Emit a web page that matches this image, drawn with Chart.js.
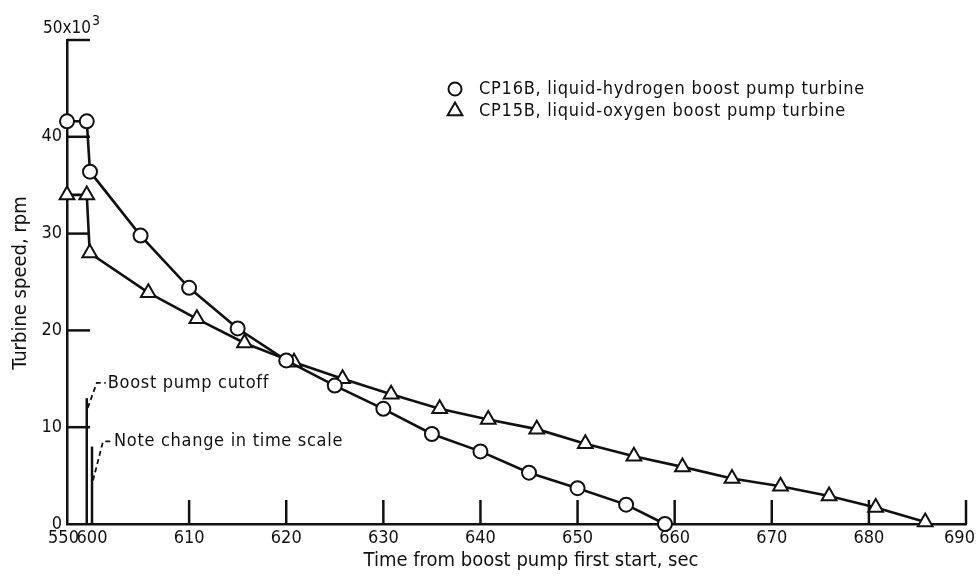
<!DOCTYPE html>
<html><head><meta charset="utf-8">
<script src="https://cdn.jsdelivr.net/npm/chart.js@4.4.1/dist/chart.umd.min.js"></script>
<style>html,body{margin:0;padding:0;background:#fff;}canvas{display:block;}</style>
</head><body>
<canvas id="c" width="978" height="577"></canvas>
<script>
// ---- data (time in sec, speed in thousands of rpm) ----
const hydrogenTimes  = [550, 589.5, 596, 605, 610, 615, 620, 625, 630, 635, 640, 645, 650, 655, 659];
const hydrogenSpeeds = [41.6, 41.6, 36.4, 29.8, 24.4, 20.2, 16.9, 14.3, 11.9, 9.3, 7.5, 5.3, 3.7, 2.0, 0];
const oxygenTimes  = [550, 589.5, 595.5, 605.8, 610.8, 615.7, 620.8, 625.8, 630.8, 635.8, 640.8, 645.8, 650.8, 655.8, 660.8, 665.9, 670.9, 675.9, 680.7, 685.8];
const oxygenSpeeds = [34.0, 34.0, 28.0, 23.9, 21.2, 18.7, 16.7, 15.0, 13.4, 11.9, 10.8, 9.8, 8.3, 7.0, 5.9, 4.7, 3.9, 2.9, 1.7, 0.2];
const xTickValues = [550, 600, 610, 620, 630, 640, 650, 660, 670, 680, 690];
const yTickValues = [0, 10, 20, 30, 40, 50];
const seriesLabels = ['CP16B, liquid-hydrogen boost pump turbine', 'CP15B, liquid-oxygen boost pump turbine'];
const xTitle = 'Time from boost pump first start, sec';
const yTitle = 'Turbine speed, rpm';
const yUnitLabel = '50x10';
const yUnitExp = '3';
const cutoffTime = 589.5, cutoffTop = 13, cutoffText = 'Boost pump cutoff';
const scaleChangeTime = 600, scaleChangeTop = 8, scaleChangeText = 'Note change in time scale';

// broken time scale: 550-600 compressed
const breakTime = 600, compress = 0.0515;
const warp = t => t >= breakTime ? t : breakTime - (breakTime - t) * compress;

const FONT = "'DejaVu Sans Condensed', 'Liberation Sans Narrow', sans-serif";
const INK = '#111';
const lastX = xTickValues.length - 1;

const overlay = {
  id: 'overlay',
  afterDraw(chart) {
    const ctx = chart.ctx, xs = chart.scales.x, ys = chart.scales.y, a = chart.chartArea;
    ctx.save();
    ctx.strokeStyle = INK; ctx.fillStyle = INK; ctx.lineWidth = 2.5; ctx.lineCap = 'butt';
    // inward y ticks
    yTickValues.forEach(v => { if (v === 0) return; const y = ys.getPixelForValue(v);
      ctx.beginPath(); ctx.moveTo(a.left, y); ctx.lineTo(a.left + 23, y); ctx.stroke(); });
    // inward x ticks
    xTickValues.forEach(v => { if (v <= breakTime) return; const x = xs.getPixelForValue(warp(v));
      ctx.beginPath(); ctx.moveTo(x, a.bottom); ctx.lineTo(x, a.bottom - 24); ctx.stroke(); });
    // annotation lines
    const cx = xs.getPixelForValue(warp(cutoffTime));
    ctx.beginPath(); ctx.moveTo(cx, ys.getPixelForValue(cutoffTop)); ctx.lineTo(cx, a.bottom); ctx.stroke();
    const sx = xs.getPixelForValue(warp(scaleChangeTime));
    ctx.beginPath(); ctx.moveTo(sx, ys.getPixelForValue(scaleChangeTop)); ctx.lineTo(sx, a.bottom); ctx.stroke();
    // leaders
    ctx.lineWidth = 1.8; ctx.setLineDash([5, 3.5]);
    let y0 = ys.getPixelForValue(cutoffTop - 1);
    ctx.beginPath(); ctx.moveTo(cx + 1, y0); ctx.lineTo(cx + 10, y0 - 25); ctx.lineTo(cx + 19, y0 - 25); ctx.stroke();
    ctx.setLineDash([]);
    ctx.font = '18px ' + FONT; ctx.textBaseline = 'middle'; ctx.textAlign = 'left';
    ctx.letterSpacing = '0.7px';
    ctx.fillText(cutoffText, cx + 21, y0 - 25);
    ctx.setLineDash([5, 3.5]);
    let y1 = ys.getPixelForValue(4.5);
    ctx.beginPath(); ctx.moveTo(sx + 1, y1); ctx.lineTo(sx + 11, y1 - 39); ctx.lineTo(sx + 20, y1 - 39); ctx.stroke();
    ctx.setLineDash([]);
    ctx.fillText(scaleChangeText, sx + 22, y1 - 39);
    ctx.letterSpacing = '0px';
    // end labels of the time axis (kept clear of the neighbour / canvas edge)
    ctx.textAlign = 'center';
    ctx.fillText(String(xTickValues[0]), xs.getPixelForValue(warp(xTickValues[0])) - 3.5, 538);
    ctx.fillText(String(xTickValues[lastX]), xs.getPixelForValue(warp(xTickValues[lastX])) - 6.5, 538);
    // unit label at top of y axis
    ctx.textAlign = 'left';
    ctx.font = '17px ' + FONT;
    ctx.fillText(yUnitLabel, 43, 29);
    const w = ctx.measureText(yUnitLabel).width;
    ctx.font = '14px ' + FONT;
    ctx.fillText(yUnitExp, 43 + w + 1, 21);
    // axis titles
    ctx.font = '20px ' + FONT; ctx.textAlign = 'center';
    ctx.fillText(xTitle, 531, 561);
    ctx.save(); ctx.translate(21, 283); ctx.rotate(-Math.PI / 2); ctx.fillText(yTitle, 0, 0); ctx.restore();
    // legend
    ctx.font = '18px ' + FONT; ctx.textAlign = 'left';
    ctx.lineWidth = 2; ctx.fillStyle = '#fff';
    ctx.beginPath(); ctx.arc(455, 89, 6.5, 0, Math.PI * 2); ctx.fill(); ctx.stroke();
    const r = 8.5, ty = 111;
    ctx.beginPath(); ctx.moveTo(455, ty - r); ctx.lineTo(455 + r * 0.866, ty + r / 2); ctx.lineTo(455 - r * 0.866, ty + r / 2); ctx.closePath(); ctx.fill(); ctx.stroke();
    ctx.fillStyle = INK;
    ctx.letterSpacing = '0.75px';
    ctx.fillText(seriesLabels[0], 479, 89);
    ctx.fillText(seriesLabels[1], 479, 111);
    ctx.letterSpacing = '0px';
    ctx.restore();
  }
};

const ds = (label, times, vals, style, radius) => ({
  label, data: times.map((t, i) => ({ x: warp(t), y: vals[i] })),
  borderColor: INK, borderWidth: 2.6, pointStyle: style, pointRadius: radius,
  pointBackgroundColor: '#fff', pointBorderColor: INK, pointBorderWidth: 2,
  tension: 0, clip: false
});

new Chart(document.getElementById('c'), {
  type: 'line',
  data: { datasets: [
    ds(seriesLabels[0], hydrogenTimes, hydrogenSpeeds, 'circle', 7),
    ds(seriesLabels[1], oxygenTimes, oxygenSpeeds, 'triangle', 8.5)
  ] },
  options: {
    responsive: false, animation: false, devicePixelRatio: 1,
    layout: { padding: { left: 0, top: 40, right: 12, bottom: 0 } },
    plugins: { legend: { display: false }, tooltip: { enabled: false } },
    scales: {
      x: {
        type: 'linear', min: warp(xTickValues[0]), max: xTickValues[lastX],
        afterBuildTicks: s => { s.ticks = xTickValues.map(v => ({ value: warp(v) })); },
        afterFit: s => { s.height = 53; s.paddingLeft = 0; s.paddingRight = 0; },
        grid: { display: false, drawTicks: false },
        border: { display: true, color: INK, width: 2.5 },
        ticks: { autoSkip: false, maxRotation: 0, color: INK, padding: 4, font: { family: FONT, size: 18 },
          callback: (v, i) => (i === 0 || i === lastX) ? '' : String(xTickValues[i]) }
      },
      y: {
        type: 'linear', min: yTickValues[0], max: yTickValues[yTickValues.length - 1],
        afterBuildTicks: s => { s.ticks = yTickValues.map(v => ({ value: v })); },
        afterFit: s => { s.width = 67; s.paddingTop = 0; s.paddingBottom = 0; },
        grid: { display: false, drawTicks: false },
        border: { display: true, color: INK, width: 2.5 },
        ticks: { color: INK, padding: 5, font: { family: FONT, size: 18 },
          callback: v => v === yTickValues[yTickValues.length - 1] ? '' : String(v) }
      }
    }
  },
  plugins: [overlay]
});
</script>
</body></html>
